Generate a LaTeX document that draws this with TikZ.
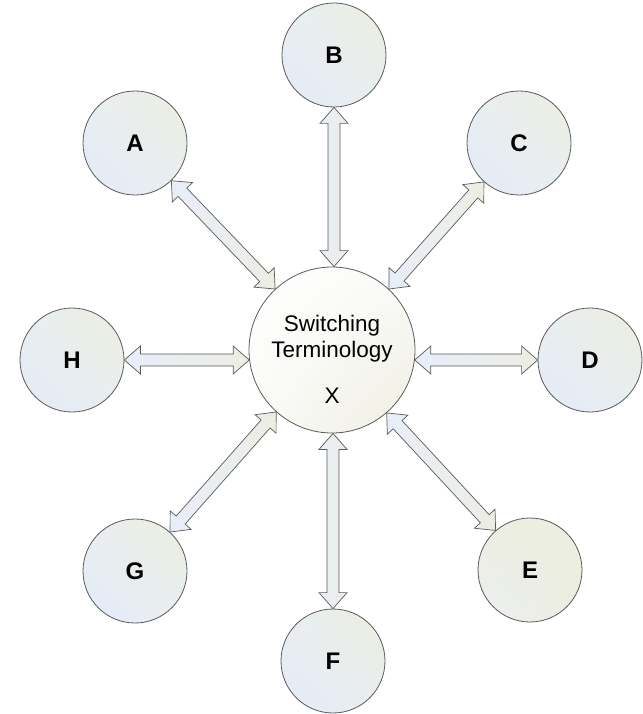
\documentclass[tikz,border=0pt]{standalone}
\usepackage{fontspec}
\setmainfont{Liberation Sans}
\usetikzlibrary{calc,shadings}
\definecolor{cblue}{RGB}{228,235,249}
\definecolor{cgreen}{RGB}{235,238,222}
\definecolor{cmid}{RGB}{233,238,241}
\definecolor{cbeige}{RGB}{238,238,225}
\definecolor{edgegray}{RGB}{90,90,90}
\definecolor{awhite}{RGB}{250,250,248}
\definecolor{ablue}{RGB}{232,238,250}
\definecolor{agreen}{RGB}{236,238,226}
\newcommand\hl{16pt}
\newcommand\hw{14pt}
\newcommand\sw{6pt}
\tikzset{
  outer/.style={circle, draw=edgegray, line width=0.8pt, minimum size=104pt, inner sep=0pt,
    font=\fontsize{24}{28}\selectfont\bfseries, shade,
    upper left=cmid, upper right=cgreen, lower left=cblue, lower right=cmid},
  hub/.style={circle, draw=edgegray, line width=0.8pt, minimum size=166pt, inner sep=0pt, shade,
    upper left=white, upper right=awhite, lower left=awhite, lower right=cbeige},
  ctext/.style={font=\fontsize{22.5}{26}\selectfont, inner sep=0pt, anchor=base},
  barr/.style={draw=edgegray, line width=0.7pt, line join=miter, shade, left color=ablue, right color=agreen},
}
% block double arrow between two given points
\newcommand\barrowpts[2]{%
  \path #1 coordinate (s) #2 coordinate (e);
  \path[barr] (s) -- ($(s)!\hl!(e)!\hw!90:(e)$) -- ($(s)!\hl!(e)!\sw!90:(e)$)
    -- ($(e)!\hl!(s)!\sw!-90:(s)$) -- ($(e)!\hl!(s)!\hw!-90:(s)$) -- (e)
    -- ($(e)!\hl!(s)!\hw!90:(s)$) -- ($(e)!\hl!(s)!\sw!90:(s)$)
    -- ($(s)!\hl!(e)!\sw!-90:(e)$) -- ($(s)!\hl!(e)!\hw!-90:(e)$) -- cycle;
}
% block double arrow between two circle nodes, centre to centre
\newcommand\barrow[2]{%
  \path let \p1=($(#2.center)-(#1.center)$), \n1={atan2(\y1,\x1)}, \n2={\n1+180} in
    coordinate (s0) at (#1.\n1) coordinate (e0) at (#2.\n2);
  \barrowpts{(s0)}{(e0)}%
}
\begin{document}
\begin{tikzpicture}[x=1pt, y=-1pt]
\useasboundingbox (0,0) rectangle (642,714);
\node[hub] (X) at (332,350) {};
\node[ctext] (t1) at (332,331) {Switching};
\node[ctext] (t2) at (332,357) {Terminology};
\node[ctext] (t3) at (332,403) {X};
\node[outer] (A) at (135,143) {A};
\node[outer] (B) at (334,55) {B};
\node[outer] (C) at (519,143) {C};
\node[outer] (H) at (72,360) {H};
\node[outer] (D) at (590,360) {D};
\node[outer] (G) at (135,571) {G};
\node[outer, upper left=cbeige, upper right=cgreen, lower left=cmid, lower right=cbeige] (E) at (530,570) {E};
\node[outer] (F) at (333,661) {F};
\barrow{A}{X}
\barrowpts{(B.south)}{(B.south |- X.north)}
\barrow{C}{X}
\barrowpts{(D.west)}{($(D.west -| X.east)+(-0.6,0)$)}
\barrow{E}{X}
\barrowpts{(F.north)}{(F.north |- X.south)}
\barrow{G}{X}
\barrowpts{(H.east)}{($(H.east -| X.west)+(0.6,0)$)}
\end{tikzpicture}
\end{document}
